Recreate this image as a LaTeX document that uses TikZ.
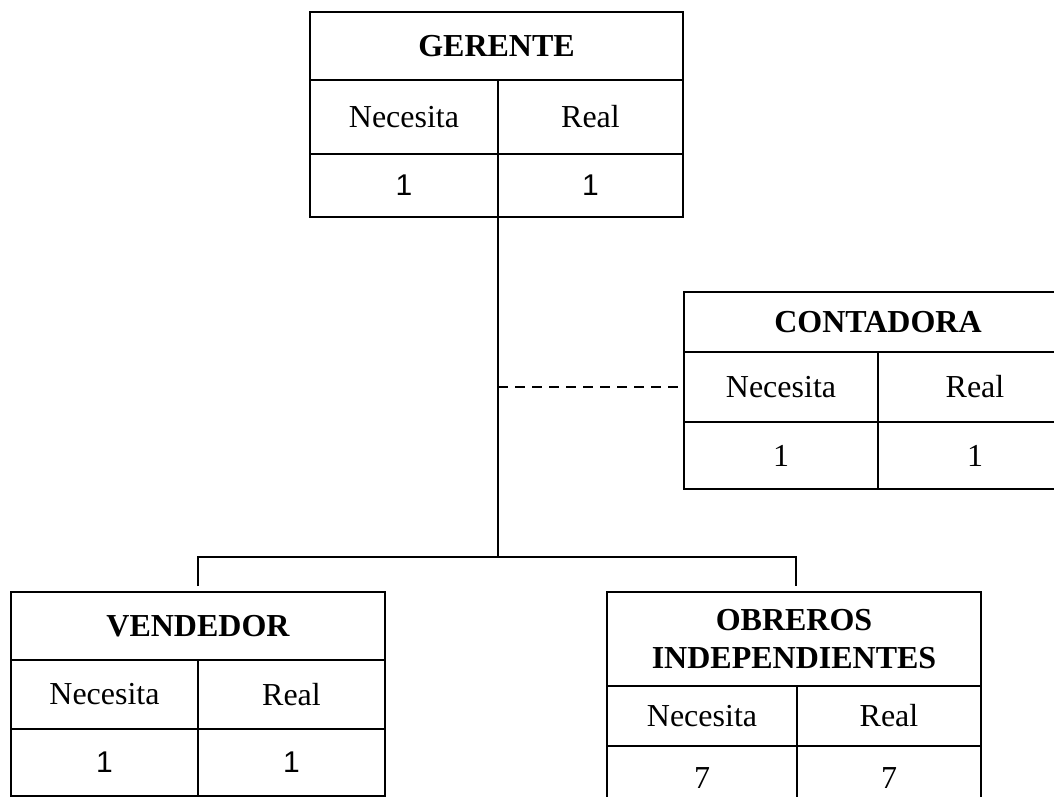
\documentclass[tikz,border=0pt]{standalone}
\usepackage{fontspec}
\setmainfont{Liberation Serif}
\setsansfont{Liberation Sans}
\usepackage{tikz}
\usetikzlibrary{positioning}

\begin{document}
\begin{tikzpicture}[
    x=1pt, y=-1pt,
    every node/.style={font=\rmfamily\fontsize{32}{38}\selectfont},
    bx/.style={rectangle, draw, line width=1.5pt, outer sep=0pt, inner sep=0pt,
               anchor=north west},
    hd/.style={bx, align=center, font=\rmfamily\bfseries\fontsize{32}{38}\selectfont},
    sn/.style={bx, font=\sffamily\fontsize{30}{34}\selectfont},
    ln/.style={line width=1.5pt},
    dsh/.style={ln, dash pattern=on 10pt off 7pt},
  ]
  \useasboundingbox (0,0) rectangle (1054,797);
  % gerente
  \node[hd, minimum width=373pt, minimum height=68pt] (g-hd) at (310,12) {GERENTE};
  \node[bx, minimum width=188pt, minimum height=74pt] (g-nec) at (g-hd.south west) {Necesita};
  \node[bx, minimum width=185pt, minimum height=74pt] (g-real) at (g-nec.north east) {Real};
  \node[sn, minimum width=188pt, minimum height=63pt] (g-n) at (g-nec.south west) {1};
  \node[sn, minimum width=185pt, minimum height=63pt] (g-r) at (g-n.north east) {1};
  % contadora
  \node[hd, minimum width=388pt, minimum height=60pt] (c-hd) at (684,292) {CONTADORA};
  \node[bx, minimum width=194pt, minimum height=70pt] (c-nec) at (c-hd.south west) {Necesita};
  \node[bx, minimum width=194pt, minimum height=70pt] (c-real) at (c-nec.north east) {Real};
  \node[bx, minimum width=194pt, minimum height=67pt] (c-n) at (c-nec.south west) {1};
  \node[bx, minimum width=194pt, minimum height=67pt] (c-r) at (c-n.north east) {1};
  % vendedor
  \node[hd, minimum width=374pt, minimum height=68pt] (v-hd) at (11,592) {VENDEDOR};
  \node[bx, minimum width=187pt, minimum height=69pt] (v-nec) at (v-hd.south west) {Necesita};
  \node[bx, minimum width=187pt, minimum height=69pt] (v-real) at (v-nec.north east) {Real};
  \node[sn, minimum width=187pt, minimum height=67pt] (v-n) at (v-nec.south west) {1};
  \node[sn, minimum width=187pt, minimum height=67pt] (v-r) at (v-n.north east) {1};
  % obreros
  \node[hd, minimum width=374pt, minimum height=94pt] (o-hd) at (607,592) {OBREROS\\INDEPENDIENTES};
  \node[bx, minimum width=190pt, minimum height=60pt] (o-nec) at (o-hd.south west) {Necesita};
  \node[bx, minimum width=184pt, minimum height=60pt] (o-real) at (o-nec.north east) {Real};
  \node[bx, minimum width=190pt, minimum height=64pt] (o-n) at (o-nec.south west) {7};
  \node[bx, minimum width=184pt, minimum height=64pt] (o-r) at (o-n.north east) {7};
  % lines
  \coordinate (jn) at (498,557);
  \coordinate (v-in) at (198,586);
  \coordinate (o-in) at (796,586);
  \draw[ln] (g-n.south east) -- (jn);
  \draw[ln] (v-in) |- (jn) -| (o-in);
  \draw[dsh] (g-n.south east |- c-nec.west) -- (c-nec.west);
\end{tikzpicture}
\end{document}
